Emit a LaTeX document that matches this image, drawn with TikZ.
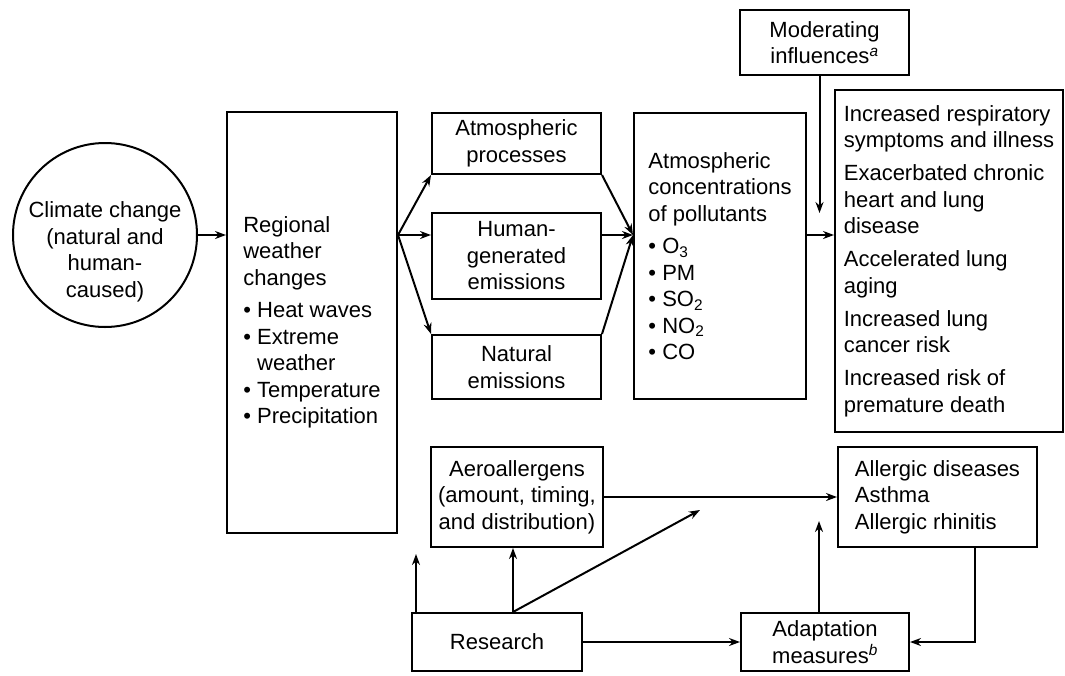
\documentclass[tikz,border=0pt]{standalone}
\usepackage{fontspec}
\setmainfont{Liberation Sans}
\usetikzlibrary{arrows.meta}
\usetikzlibrary{positioning}
\tikzset{basic box/.style={draw,line width=2pt,inner sep=0pt}}
\tikzset{box/.style={basic box,rectangle,align=center}}
\tikzset{list box/.style={basic box,rectangle,align=left}}
\tikzset{arr/.style={draw,line width=2pt,-{Stealth[length=11pt,width=8pt]}}}
\newcommand{\BUL}{\textbullet\ }
\newcommand{\IND}{\hphantom{\textbullet\ }}
\newcommand{\NOTE}[1]{\textsuperscript{\itshape #1}}

\begin{document}
\begin{tikzpicture}
      [
      x=1pt,y=-1pt,
      font=\fontsize{22}{26.5}\selectfont,
      ]
      \useasboundingbox (0,0) rectangle (1065,675);

      % upper chain
      \node [basic box,circle,inner sep=-20pt,minimum size=184pt,align=center] (clim) at (105,235)
      {\rule{0pt}{50pt}Climate change\\(natural and\\human-\\caused)};
      \node [list box,minimum width=170pt,minimum height=421pt] (reg) at (312,322.5)
      {Regional\\weather\\changes\\[6pt]\BUL Heat waves\\\BUL Extreme\\\IND weather\\\BUL Temperature\\\BUL Precipitation};
      \node [box,minimum width=169pt,minimum height=61pt] (proc) at (516.5,143.5)
      {Atmospheric\\processes};
      \node [box,minimum width=169pt,minimum height=86pt] (human) at (516.5,256)
      {Human-\\generated\\emissions};
      \node [box,minimum width=169pt,minimum height=64pt] (natural) at (516.5,367)
      {Natural\\emissions};
      \node [list box,minimum width=172pt,minimum height=286pt] (conc) at (720,256)
      {Atmospheric\\concentrations\\of pollutants\\[6pt]\BUL O\textsubscript{3}\\\BUL PM\\\BUL SO\textsubscript{2}\\\BUL NO\textsubscript{2}\\\BUL CO};
      \node [box,minimum width=169pt,minimum height=65pt] (moder) at (824.5,42.5)
      {Moderating\\influences\NOTE{a}};
      \node [list box,minimum width=228pt,minimum height=342pt] (outc) at (949,261)
      {Increased respiratory\\symptoms and illness\\[6.5pt]Exacerbated chronic\\heart and lung\\disease\\[6.5pt]Accelerated lung\\aging\\[6.5pt]Increased lung\\cancer risk\\[6.5pt]Increased risk of\\premature death};

      % lower chain
      \node [box,minimum width=172pt,minimum height=100pt] (aero) at (517,497)
      {Aeroallergens\\(amount, timing,\\and distribution)};
      \node [list box,minimum width=199pt,minimum height=100pt] (allerg) at (937.5,497)
      {Allergic diseases\\Asthma\\Allergic rhinitis};
      \node [box,minimum width=170pt,minimum height=58pt] (research) at (497,642)
      {Research};
      \node [box,minimum width=168pt,minimum height=58pt] (adapt) at (825,642)
      {Adaptation\\measures\NOTE{b}};

      % helper points
      \coordinate (fork) at (reg.east |- clim.east);
      \coordinate (join) at (conc.west |- clim.east);
      \coordinate (modfoot) at ([xshift=-5pt]moder.south);
      \coordinate (modtip) at ([yshift=-137pt]modfoot);
      \coordinate (rleft) at ([xshift=5pt]research.north west);
      \coordinate (rlefttip) at ([yshift=58pt]rleft);
      \coordinate (rmid) at ([xshift=16pt]research.north);
      \coordinate (rdiagtip) at (700,510);
      \coordinate (afoot) at ([xshift=-6pt]adapt.north);
      \coordinate (atip) at ([yshift=91pt]afoot);
      \coordinate (aldrop) at ([xshift=37.5pt]allerg.south);

      % edges
      \path [arr] (clim.east) -- (clim.east -| reg.west);
      \path [arr] (fork) -- (proc.south west);
      \path [arr] (fork) -- (fork -| human.west);
      \path [arr] (fork) -- (natural.north west);
      \path [arr] (proc.south east) -- (join);
      \path [arr] (human.east |- join) -- (join);
      \path [arr] (natural.north east) -- (join);
      \path [arr] (conc.east |- join) -- (join -| outc.west);
      \path [arr] (modfoot) -- (modtip);

      \path [arr] (aero.east) -- (aero.east -| allerg.west);
      \path [arr] (rleft) -- (rlefttip);
      \path [arr] (rmid) -- (rmid |- aero.south);
      \path [arr] (rmid) -- (rdiagtip);
      \path [arr] (research.east) -- (adapt.west);
      \path [arr] (afoot) -- (atip);
      \path [arr] (aldrop) |- (adapt.east);

    \end{tikzpicture}
\end{document}
